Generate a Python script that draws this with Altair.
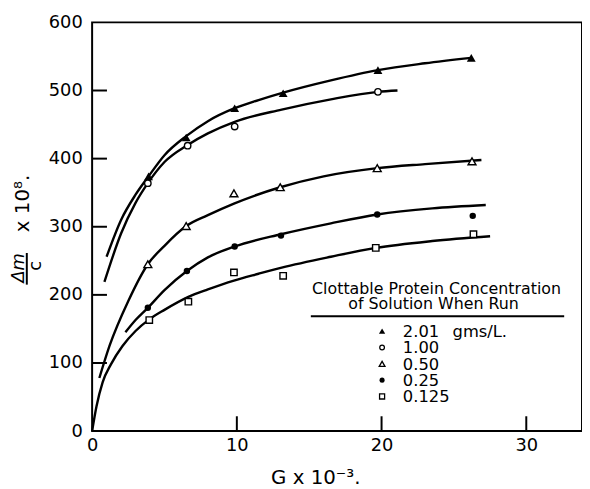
import altair as alt
import pandas as pd

FONT = "DejaVu Sans"

# ---- legend / series ----
SERIES = ["2.01", "1.00", "0.50", "0.25", "0.125"]
LEGEND_LABELS = ["2.01\u2002 gms/L.", "1.00", "0.50", "0.25", "0.125"]
SHAPES = ["triangle-up", "circle", "triangle-up", "circle", "square"]
FILLED = [True, False, False, True, False]

# ---- measured points (G x 10^-3, Δm/c x 10^8) ----
pts_x_201 = [3.9, 6.5, 9.85, 13.2, 19.75, 26.2]
pts_y_201 = [374, 431, 474, 496, 530, 548]
pts_x_100 = [3.85, 6.6, 9.85, 19.75]
pts_y_100 = [364, 419, 447, 498]
pts_x_050 = [3.85, 6.5, 9.8, 13.0, 19.7, 26.25]
pts_y_050 = [245, 301, 349, 358, 386, 396]
pts_x_025 = [3.85, 6.55, 9.85, 13.05, 19.7, 26.3]
pts_y_025 = [181, 235, 271, 287, 318, 316]
pts_x_0125 = [3.95, 6.65, 9.8, 13.2, 19.6, 26.35]
pts_y_0125 = [163, 190, 233, 228, 269, 289]

# ---- fitted curves ----
cur_x_201 = [1.0, 2.0, 3.0, 3.9, 5.0, 6.5, 8.0, 9.85, 11.5, 13.2, 16.5, 19.75, 23.0, 26.2]
cur_y_201 = [256, 310, 347, 374, 405, 433, 455, 474, 486, 497, 515, 530, 540, 548]
cur_x_100 = [0.85, 2.0, 3.0, 3.85, 5.0, 6.6, 8.0, 9.85, 13.1, 16.5, 19.75, 21.1]
cur_y_100 = [219, 290, 335, 364, 395, 420, 437, 454, 472, 487, 498, 500]
cur_x_050 = [0.5, 1.2, 2.5, 3.85, 5.0, 6.5, 8.0, 9.8, 13.0, 16.0, 19.7, 23.0, 26.9]
cur_y_050 = [78, 125, 191, 245, 272, 301, 317, 334, 358, 374, 386, 392, 398]
cur_x_025 = [2.3, 3.0, 3.85, 5.0, 6.55, 8.0, 9.85, 13.05, 16.5, 19.7, 23.5, 27.2]
cur_y_025 = [145, 163, 181, 207, 235, 255, 271, 289, 305, 318, 327, 332]
cur_x_0125 = [0, 0.3, 0.73, 1.3, 2.1, 3.0, 3.95, 5.0, 6.65, 8.0, 9.8, 11.5, 13.1, 16.5, 19.6, 23.5, 27.5]
cur_y_0125 = [0, 36, 72, 98, 125, 147, 164, 178, 197, 208, 221, 231, 240, 256, 269, 279, 286]

# ---- axis ticks ----
X_TICKS = [0, 10, 20, 30]
Y_TICKS = [0, 100, 200, 300, 400, 500, 600]
X_INNER_TICKS = [10, 20, 30]
Y_INNER_TICKS = [100, 200, 300, 400, 500]

PTS = [(pts_x_201, pts_y_201), (pts_x_100, pts_y_100), (pts_x_050, pts_y_050),
       (pts_x_025, pts_y_025), (pts_x_0125, pts_y_0125)]
CURVES = [(cur_x_201, cur_y_201), (cur_x_100, cur_y_100), (cur_x_050, cur_y_050),
          (cur_x_025, cur_y_025), (cur_x_0125, cur_y_0125)]

W, H = 495, 413
xs = alt.Scale(domain=[0, 33.85], nice=False, zero=False)
ys = alt.Scale(domain=[0, 600], nice=False)
X_AXIS = alt.Axis(values=X_TICKS, domain=False, ticks=False, grid=False,
                  labelFontSize=18, labelFont=FONT, labelColor="black",
                  labelPadding=6, labelFlush=False, labelOverlap=False, title=None)
Y_AXIS = alt.Axis(values=Y_TICKS, domain=False, ticks=False, grid=False,
                  labelFontSize=18, labelFont=FONT, labelColor="black",
                  labelPadding=10, labelFlush=False, labelOverlap=False, title=None)


def X():
    return alt.X("G:Q", scale=xs, axis=X_AXIS)


def Y():
    return alt.Y("v:Q", scale=ys, axis=Y_AXIS)


one = pd.DataFrame({"a": [0]})
layers = []

# inward ticks
layers.append(
    alt.Chart(pd.DataFrame({"G": X_INNER_TICKS})).mark_rule(color="black", strokeWidth=2).encode(
        x=X(), y=alt.value(H), y2=alt.value(H - 15))
)
layers.append(
    alt.Chart(pd.DataFrame({"v": Y_INNER_TICKS})).mark_rule(color="black", strokeWidth=2).encode(
        y=Y(), x=alt.value(0), x2=alt.value(15))
)

PLOT_SIZES = [80, 42, 64, 42, 42]
LEG_SIZES = [40, 22, 34, 26, 26]
for i, name in enumerate(SERIES):
    cx, cy = CURVES[i]
    px, py = PTS[i]
    cdf = pd.DataFrame({"G": cx, "v": cy})
    pdf = pd.DataFrame({"G": px, "v": py})
    layers.append(
        alt.Chart(cdf).mark_line(color="black", strokeWidth=2.4, interpolate="monotone").encode(
            x=X(), y=Y())
    )
    layers.append(
        alt.Chart(pdf).mark_point(shape=SHAPES[i], filled=FILLED[i], color="black",
                                  fill="black" if FILLED[i] else "white",
                                  size=PLOT_SIZES[i], strokeWidth=1.4, opacity=1).encode(
            x=X(), y=Y())
    )
    ly = 312 + 16.5 * i
    layers.append(
        alt.Chart(one).mark_point(shape=SHAPES[i], filled=FILLED[i], color="black",
                                  fill="black" if FILLED[i] else "white",
                                  size=LEG_SIZES[i], strokeWidth=1.3, opacity=1).encode(
            x=alt.value(293), y=alt.value(ly))
    )
    layers.append(
        alt.Chart(one).mark_text(align="left", baseline="middle", font=FONT, fontSize=16.5, color="black").encode(
            x=alt.value(314), y=alt.value(ly + 1), text=alt.value(LEGEND_LABELS[i]))
    )

# legend title & underline
layers.append(
    alt.Chart(one).mark_text(align="center", baseline="middle", font=FONT, fontSize=16, color="black").encode(
        x=alt.value(348), y=alt.value(269), text=alt.value("Clottable Protein Concentration"))
)
layers.append(
    alt.Chart(one).mark_text(align="center", baseline="middle", font=FONT, fontSize=16, color="black").encode(
        x=alt.value(345), y=alt.value(285), text=alt.value("of Solution When Run"))
)
layers.append(
    alt.Chart(one).mark_rule(color="black", strokeWidth=2).encode(
        x=alt.value(221), x2=alt.value(477), y=alt.value(297))
)

# x axis title
layers.append(
    alt.Chart(one).mark_text(align="center", baseline="middle", font=FONT, fontSize=20, color="black").encode(
        x=alt.value(226), y=alt.value(460), text=alt.value("G x 10\u207b\u00b3."))
)
# y axis title: Δm / c x 10^8.
layers.append(
    alt.Chart(one).mark_text(align="center", baseline="middle", font=FONT, fontSize=18, color="black",
                             angle=270, fontStyle="italic").encode(
        x=alt.value(-74), y=alt.value(248), text=alt.value("\u0394m"))
)
layers.append(
    alt.Chart(one).mark_text(align="center", baseline="middle", font=FONT, fontSize=18, color="black",
                             angle=270).encode(
        x=alt.value(-57), y=alt.value(246), text=alt.value("c"))
)
layers.append(
    alt.Chart(one).mark_rule(color="black", strokeWidth=2).encode(
        x=alt.value(-66), y=alt.value(233), y2=alt.value(265))
)
layers.append(
    alt.Chart(one).mark_text(align="center", baseline="middle", font=FONT, fontSize=20, color="black",
                             angle=270).encode(
        x=alt.value(-70), y=alt.value(183), text=alt.value("x 10\u2078."))
)

chart = alt.layer(*layers).properties(
    width=W, height=H,
    autosize=alt.AutoSizeParams(type="none"),
    padding={"left": 85, "top": 12, "right": 0, "bottom": 60},
    background="white",
).configure_view(stroke="black", strokeWidth=2)

chart.save("out.html", embed_options={"renderer": "svg", "actions": False})
